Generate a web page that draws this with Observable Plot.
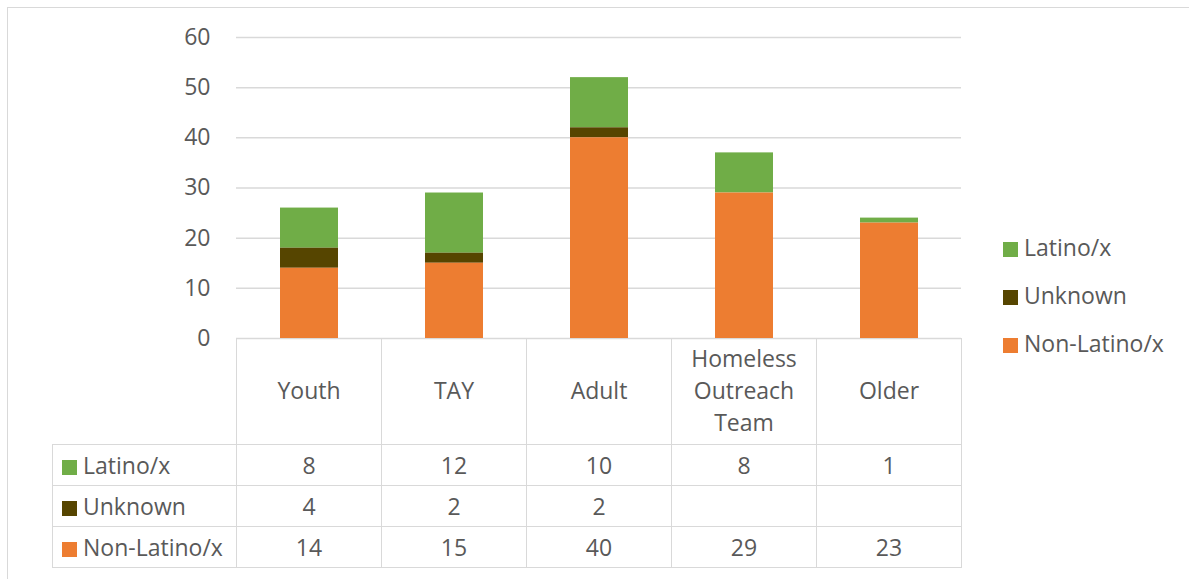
<!DOCTYPE html>
<html>
<head>
<meta charset="utf-8">
<script src="https://cdn.jsdelivr.net/npm/d3@7"></script>
<script src="https://cdn.jsdelivr.net/npm/@observablehq/plot@0.6"></script>
<style>
  html, body { margin: 0; padding: 0; background: #fff; }
  #wrap { position: relative; width: 1189px; height: 579px; overflow: hidden;
          font-family: "Open Sans", sans-serif; color: #595959; }
  #frame { position: absolute; left: 7px; top: 7px; width: 1200px; height: 600px;
           border-top: 1.5px solid #d9d9d9; border-left: 1.5px solid #d9d9d9; }
  #chart { position: absolute; left: 0; top: 0; }
  #tbl { position: absolute; left: 52px; top: 338px; border-collapse: collapse;
         font-size: 23px; color: #595959; table-layout: fixed; }
  #tbl td { border: 1.5px solid #d9d9d9; text-align: center; padding: 0; line-height: 32px; }
  #tbl tr.head td { height: 102px; padding-bottom: 3px; }
  #tbl tr.row td { height: 39px; padding-bottom: 1px; }
  #tbl td.corner { border-top: none; border-left: none; }
  #tbl td.lab { text-align: left; padding-left: 9px; white-space: nowrap; }
  .sw { display: inline-block; width: 15px; height: 15px; margin-right: 6px; vertical-align: -1px; }
  #legend { position: absolute; left: 1003px; top: 228px; font-size: 23px; }
  #legend div { height: 48px; line-height: 38px; white-space: nowrap; }
</style>
</head>
<body>
<div id="wrap">
  <div id="frame"></div>
  <div id="chart"></div>
  <table id="tbl"></table>
  <div id="legend"></div>
</div>
<script>
const categories = ["Youth", "TAY", "Adult", "Homeless Outreach Team", "Older"];
const seriesNames = ["Latino/x", "Unknown", "Non-Latino/x"];
const seriesColors = ["#70ad47", "#564500", "#ed7d31"];
const latino = [8, 12, 10, 8, 1];
const unknown = [4, 2, 2, null, null];
const nonLatino = [14, 15, 40, 29, 23];
const yTicks = [0, 10, 20, 30, 40, 50, 60];

const seriesValues = { "Latino/x": latino, "Unknown": unknown, "Non-Latino/x": nonLatino };
const data = [];
for (const s of seriesNames) {
  categories.forEach((c, i) => {
    const v = seriesValues[s][i];
    if (v != null) data.push({ cat: c, series: s, value: v });
  });
}

const chart = Plot.plot({
  width: 1189,
  height: 360,
  marginTop: 37,
  marginBottom: 22,
  marginLeft: 236,
  marginRight: 228,
  style: { fontFamily: "Open Sans, sans-serif", fontSize: "23px", color: "#595959", background: "transparent" },
  x: { domain: categories, paddingInner: 0.6, paddingOuter: 0.3, axis: null },
  y: { domain: [0, 60] },
  color: { domain: seriesNames, range: seriesColors },
  marks: [
    Plot.gridY(yTicks, { stroke: "#d9d9d9", strokeOpacity: 1, strokeWidth: 1.5 }),
    Plot.axisY({ ticks: yTicks, tickSize: 0, tickPadding: 26, label: null, fontSize: 23, fill: "#595959" }),
    Plot.barY(data, Plot.stackY({
      x: "cat", y: "value", fill: "series",
      order: ["Non-Latino/x", "Unknown", "Latino/x"]
    }))
  ]
});
document.getElementById("chart").appendChild(chart);

// data table
const tbl = document.getElementById("tbl");
const colgroup = document.createElement("colgroup");
const c0 = document.createElement("col"); c0.style.width = "184px"; colgroup.appendChild(c0);
categories.forEach(() => { const c = document.createElement("col"); c.style.width = "145px"; colgroup.appendChild(c); });
tbl.appendChild(colgroup);
const head = document.createElement("tr"); head.className = "head";
const corner = document.createElement("td"); corner.className = "corner"; head.appendChild(corner);
categories.forEach(c => { const td = document.createElement("td"); td.textContent = c; td.style.paddingLeft = "10px"; td.style.paddingRight = "10px"; head.appendChild(td); });
tbl.appendChild(head);
seriesNames.forEach((s, k) => {
  const tr = document.createElement("tr"); tr.className = "row";
  const lab = document.createElement("td"); lab.className = "lab";
  const sw = document.createElement("span"); sw.className = "sw"; sw.style.background = seriesColors[k];
  lab.appendChild(sw); lab.appendChild(document.createTextNode(s));
  tr.appendChild(lab);
  seriesValues[s].forEach(v => { const td = document.createElement("td"); td.textContent = v == null ? "" : v; tr.appendChild(td); });
  tbl.appendChild(tr);
});

// legend
const legend = document.getElementById("legend");
seriesNames.forEach((s, k) => {
  const d = document.createElement("div");
  const sw = document.createElement("span"); sw.className = "sw"; sw.style.background = seriesColors[k];
  d.appendChild(sw); d.appendChild(document.createTextNode(s));
  legend.appendChild(d);
});
</script>
</body>
</html>
